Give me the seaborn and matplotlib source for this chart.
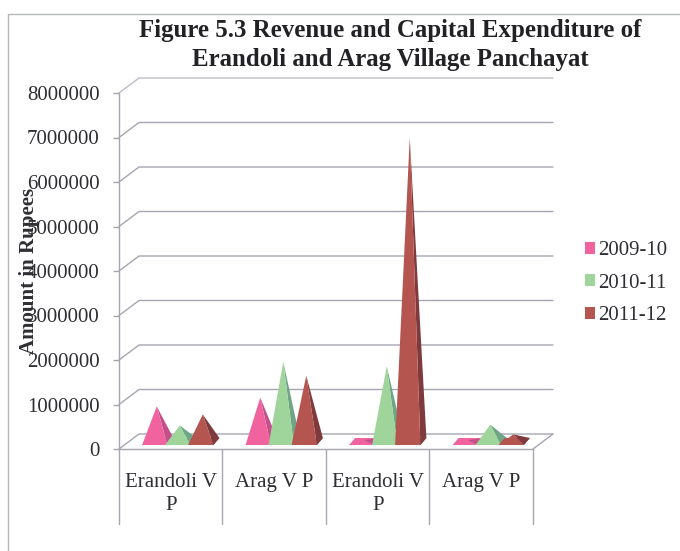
import matplotlib
matplotlib.use("Agg")
import matplotlib.pyplot as plt
import pandas as pd
import seaborn as sns
from matplotlib.lines import Line2D
from matplotlib.patches import Patch

categories = ["Erandoli V\nP", "Arag V P", "Erandoli V\nP", "Arag V P"]
years = ["2009-10", "2010-11", "2011-12"]
valores_2009 = [790000, 990000, 30000, 30000]
valores_2010 = [360000, 1790000, 1690000, 380000]
valores_2011 = [610000, 1480000, 6830000, 160000]
y_ticks = [0, 1000000, 2000000, 3000000, 4000000, 5000000, 6000000, 7000000, 8000000]

cores = ["#F0639E", "#9FD49A", "#B5554F"]
cores_lado = ["#C2508A", "#6FA587", "#7E3A3C"]
cor_linha = "#A6A6B2"
cor_texto = "#2E2E33"

sns.set_theme(style="white")
plt.rcParams["font.family"] = ["Liberation Serif", "DejaVu Serif"]

df = pd.DataFrame({
    "grupo": list(range(4)) * 3,
    "ano": [y for y in years for _ in range(4)],
    "valor": valores_2009 + valores_2010 + valores_2011,
})

fig = plt.figure(figsize=(6.8, 5.51), dpi=100, facecolor="white")
ax = fig.add_axes([119 / 680, 102 / 551, 414 / 680, 356 / 551])

# barras invisiveis: o seaborn posiciona, as piramides sao desenhadas por cima
sns.barplot(data=df, x="grupo", y="valor", hue="ano", hue_order=years, palette=cores,
            width=2 / 3, gap=0, legend=False, ax=ax)
ax.set_xlim(-0.5, 3.5)
ax.set_ylim(0, 8000000)

# conversao de pixels para unidades dos dados
px_x = 4 / 414
px_y = 8000000 / 356
fundo_x = 20 * px_x
fundo_y = 15 * px_y

# parede do fundo e piso em falsa perspectiva
for t in y_ticks:
    ax.plot([-0.5, -0.5 + fundo_x, 3.5 + fundo_x], [t, t + fundo_y, t + fundo_y],
            color=cor_linha, lw=1, clip_on=False, zorder=1, alpha=0.75 if t == 8000000 else 1)
ax.plot([3.5, 3.5 + fundo_x], [0, fundo_y], color=cor_linha, lw=1, clip_on=False, zorder=1)

# piramides
for container, cor, lado in zip(ax.containers, cores, cores_lado):
    for bar in container:
        bar.set_visible(False)
        meio = bar.get_x() + bar.get_width() / 2 + 7 * px_x
        meia = bar.get_width() / 2 * 1.1
        base = 4 * px_y
        prof_x, prof_y = 6 * px_x, 7 * px_y
        topo_x = meio + 2 * px_x
        topo_y = base + prof_y / 2 + bar.get_height()
        ax.fill([meio - meia, meio + meia, meio + meia + prof_x, meio - meia + prof_x],
                [base, base, base + prof_y, base + prof_y],
                color=cor, lw=0, zorder=3, clip_on=False)
        ax.fill([meio + meia, meio + meia + prof_x, topo_x], [base, base + prof_y, topo_y],
                color=lado, lw=0, zorder=3, clip_on=False)
        ax.fill([meio - meia, meio + meia, topo_x], [base, base, topo_y],
                color=cor, lw=0, zorder=3, clip_on=False)

# separadores das categorias abaixo do eixo
for x in [-0.5, 0.5, 1.5, 2.5, 3.5]:
    ax.plot([x, x], [0, -75 * px_y], color=cor_linha, lw=1, clip_on=False, zorder=2)

sns.despine(ax=ax, top=True, right=True, left=False, bottom=False)
for lado in ["left", "bottom"]:
    ax.spines[lado].set_color(cor_linha)
    ax.spines[lado].set_linewidth(1)

ax.set_yticks(y_ticks)
ax.set_yticklabels([str(t) for t in y_ticks], fontsize=15, color=cor_texto)
ax.set_xticks(range(4))
ax.set_xticklabels(categories, fontsize=15, color=cor_texto, linespacing=1.3)
ax.tick_params(axis="y", left=True, length=4, width=1, color=cor_linha, pad=10)
ax.tick_params(axis="x", bottom=False, pad=11)
ax.set_xlabel("")
# no original o rotulo fica mesmo por cima dos numeros do eixo
ax.set_ylabel("Amount in Rupees", fontsize=15, fontweight="bold", color=cor_texto)
ax.yaxis.set_label_coords(-0.193, 0.5)

fig.suptitle("Figure 5.3 Revenue and Capital Expenditure of\nErandoli and Arag Village Panchayat",
             x=390 / 680, y=1 - 45 / 551, va="center", fontsize=17.9, fontweight="bold",
             color="#222226", linespacing=1.33)

handles = [Patch(facecolor=c, edgecolor="none") for c in cores]
fig.legend(handles, years, loc="center left", bbox_to_anchor=(585 / 680, 1 - 283 / 551),
           frameon=False, fontsize=15, handlelength=0.5, handleheight=0.5, handletextpad=0.15,
           labelspacing=0.65, borderpad=0, borderaxespad=0, labelcolor=cor_texto)

# moldura do grafico recortada na imagem
fig.add_artist(Line2D([8 / 680, 8 / 680, 1], [0, 1 - 13.5 / 551, 1 - 13.5 / 551],
                      color="#B4B8B8", lw=1))

fig.savefig("out.png", dpi=100)
